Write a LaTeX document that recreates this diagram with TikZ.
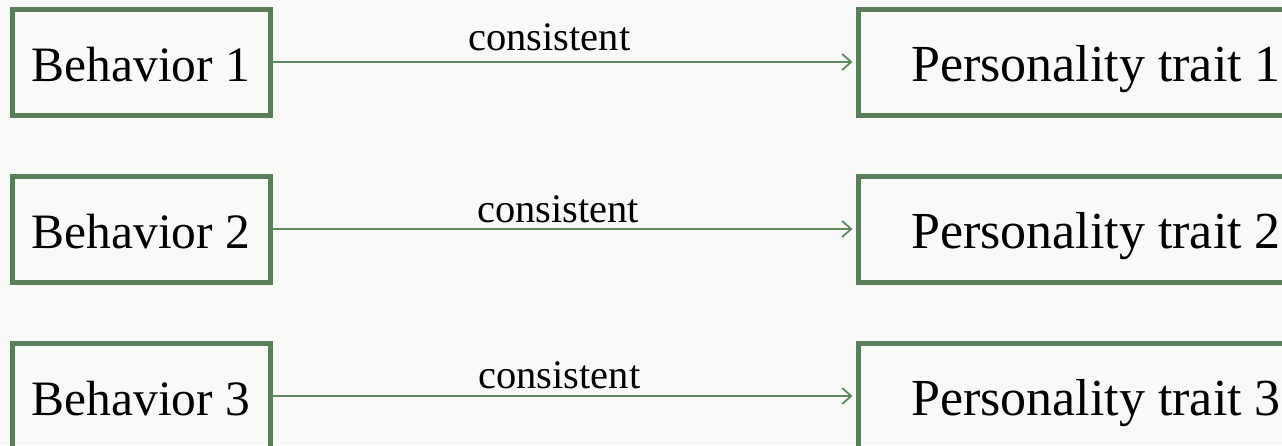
\documentclass[tikz,border=0pt]{standalone}
\usepackage{fontspec}
\setmainfont{Liberation Serif}
\usetikzlibrary{arrows.meta}
\definecolor{boxgreen}{HTML}{5A7D5A}
\definecolor{arrowgreen}{HTML}{5F8A5F}
\definecolor{bgcol}{HTML}{F9F9F7}
\tikzset{
  leftbox/.style={draw=boxgreen, line width=5pt, minimum width=258pt, minimum height=106pt,
    inner sep=0pt, text height=39pt, text depth=0pt,
    font=\fontsize{49.5}{56}\selectfont, text=black},
  rightbox/.style={leftbox, minimum width=476pt, font=\fontsize{52}{58}\selectfont},
  conn/.style={draw=arrowgreen, line width=1.8pt, shorten >=3pt,
    -{Straight Barb[length=9pt,width=16pt]}},
  lbl/.style={font=\fontsize{40.5}{46}\selectfont, text=black, anchor=base, inner sep=0pt}
}
\begin{document}
\begin{tikzpicture}[x=1pt,y=-1pt]
\fill[bgcol] (0,0) rectangle (1282,445);
\useasboundingbox (0,0) rectangle (1282,445);
\clip (0,0) rectangle (1282,445);
\node[leftbox] (b1) at (141,62) {Behavior 1};
\node[leftbox] (b2) at (141,229) {Behavior 2};
\node[leftbox] (b3) at (141,396) {Behavior 3};
\node[rightbox] (p1) at (1096,62) {Personality trait 1};
\node[rightbox] (p2) at (1096,229) {Personality trait 2};
\node[rightbox] (p3) at (1096,396) {Personality trait 3};
\draw[conn] (b1.east) -- node[lbl, pos=0.475, yshift=12pt] {consistent} (p1.west);
\draw[conn] (b2.east) -- node[lbl, pos=0.49, yshift=7pt] {consistent} (p2.west);
\draw[conn] (b3.east) -- node[lbl, pos=0.492, yshift=8pt] {consistent} (p3.west);
\end{tikzpicture}
\end{document}
